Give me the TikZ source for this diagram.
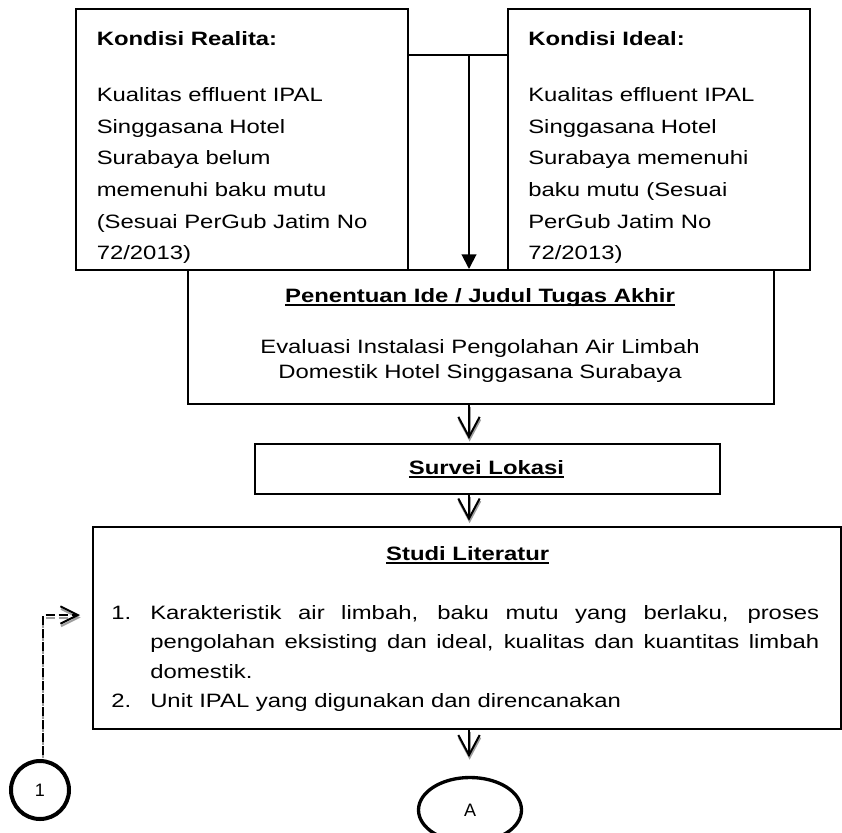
\documentclass[tikz,border=0pt]{standalone}
\usepackage{fontspec}
\setmainfont{Liberation Sans}[FakeStretch=1.235]
\newfontfamily\plainfont{Liberation Sans}
\newcommand{\myul}[1]{\setbox0\hbox{#1}\rlap{\rule[-3pt]{\wd0}{1.4pt}}\box0}
\usetikzlibrary{arrows.meta,shapes.geometric}
\begin{document}
\begin{tikzpicture}[x=0.75pt,y=-0.75pt,
  box/.style={draw,line width=1.25pt,anchor=north west,inner sep=0pt},
  txt/.style={inner sep=0pt,font=\fontsize{14.5}{23.7}\selectfont},
  flow/.style={line width=1.5pt,-{Straight Barb[length=15pt,width=16pt]}},
  shadowed/.style={draw=black!38,transform canvas={xshift=0.45pt,yshift=-1.9pt}},
  lbl/.style={font=\plainfont\fontsize{13.5}{16}\selectfont,inner sep=0pt},
  dashconn/.style={line width=1.5pt,dash pattern=on 6.75pt off 3pt,dash phase=6.75pt,-{Straight Barb[length=13pt,width=13pt]}}
  ]
\useasboundingbox (0,0) rectangle (842,832);
% boxes
\node[box,minimum width=249pt,minimum height=195.75pt] (kr) at (75,8) {};
\node[box,minimum width=226.5pt,minimum height=195.75pt] (ki) at (507,8) {};
\node[box,minimum width=439.5pt,minimum height=100.5pt] (pen) at (187,269) {};
\node[box,minimum width=348.75pt,minimum height=37.5pt] (sur) at (254,443) {};
\node[box,minimum width=561pt,minimum height=151.5pt] (stu) at (92,526) {};
% terminals
\node[circle,draw,line width=3pt,minimum size=43.5pt,inner sep=0pt,lbl] (c1) at (40,790) {1};
\node[ellipse,draw,line width=2.5pt,minimum width=77.25pt,minimum height=48.75pt,inner sep=0pt,lbl] (A) at (470,810) {A};
% texts
\node[txt,anchor=base west] (krt) at (96.5,45) {\parbox[t]{230pt}{\raggedright\textbf{Kondisi Realita:}\\[18.8pt]
Kualitas effluent IPAL\\ Singgasana Hotel\\ Surabaya belum\\ memenuhi baku mutu\\ (Sesuai PerGub Jatim No\\ 72/2013)}};
\node[txt,anchor=base west] (kit) at (528,45) {\parbox[t]{215pt}{\raggedright\textbf{Kondisi Ideal:}\\[18.8pt]
Kualitas effluent IPAL\\ Singgasana Hotel\\ Surabaya memenuhi\\ baku mutu (Sesuai\\ PerGub Jatim No\\ 72/2013)}};
\node[txt,anchor=base] (pent) at (480,302) {\parbox[t]{430pt}{\centering\fontsize{14.5}{18.75}\selectfont
\textbf{\myul{Penentuan Ide / Judul Tugas Akhir}}\\[19.5pt]
Evaluasi Instalasi Pengolahan Air Limbah\\ Domestik Hotel Singgasana Surabaya}};
\node[txt,anchor=base] (surt) at (486.5,474) {\textbf{\myul{Survei Lokasi}}};
\node[txt,anchor=base] (stut) at (467.7,560) {\textbf{\myul{Studi Literatur}}};
\node[txt,anchor=base west] (stui) at (111,619) {\parbox[t]{531pt}{\fontsize{14.5}{22.2}\selectfont
\hangindent=29.25pt\hangafter=1\makebox[29.25pt][l]{1.}Karakteristik air limbah, baku mutu yang berlaku, proses\linebreak
pengolahan eksisting dan ideal, kualitas dan kuantitas limbah\linebreak domestik.\par
\hangindent=29.25pt\hangafter=1\makebox[29.25pt][l]{2.}Unit IPAL yang digunakan dan direncanakan}};
% connectors
\coordinate (jn) at (469,55);
\coordinate (dk) at (80,615);
\draw[line width=1.25pt] (kr.north east |- jn) -- (ki.north west |- jn);
\draw[line width=1.5pt,-{Triangle[length=11pt,width=11pt]}] (jn) -- (pen.north -| jn);
\draw[flow,shadowed,shorten >=3pt] (pen.south -| jn) -- (sur.north -| jn);
\draw[flow,shorten >=3pt] (pen.south -| jn) -- (sur.north -| jn);
\draw[flow,shadowed,shorten >=4pt] (sur.south -| jn) -- (stu.north -| jn);
\draw[flow,shorten >=4pt] (sur.south -| jn) -- (stu.north -| jn);
\draw[flow,shadowed,shorten >=14pt] (stu.south -| jn) -- (A.north -| jn);
\draw[flow,shorten >=14pt] (stu.south -| jn) -- (A.north -| jn);
\draw[dashconn,shadowed] ([xshift=2pt]c1.north) |- (dk);
\draw[dashconn] ([xshift=2pt]c1.north) |- (dk);
\end{tikzpicture}
\end{document}
